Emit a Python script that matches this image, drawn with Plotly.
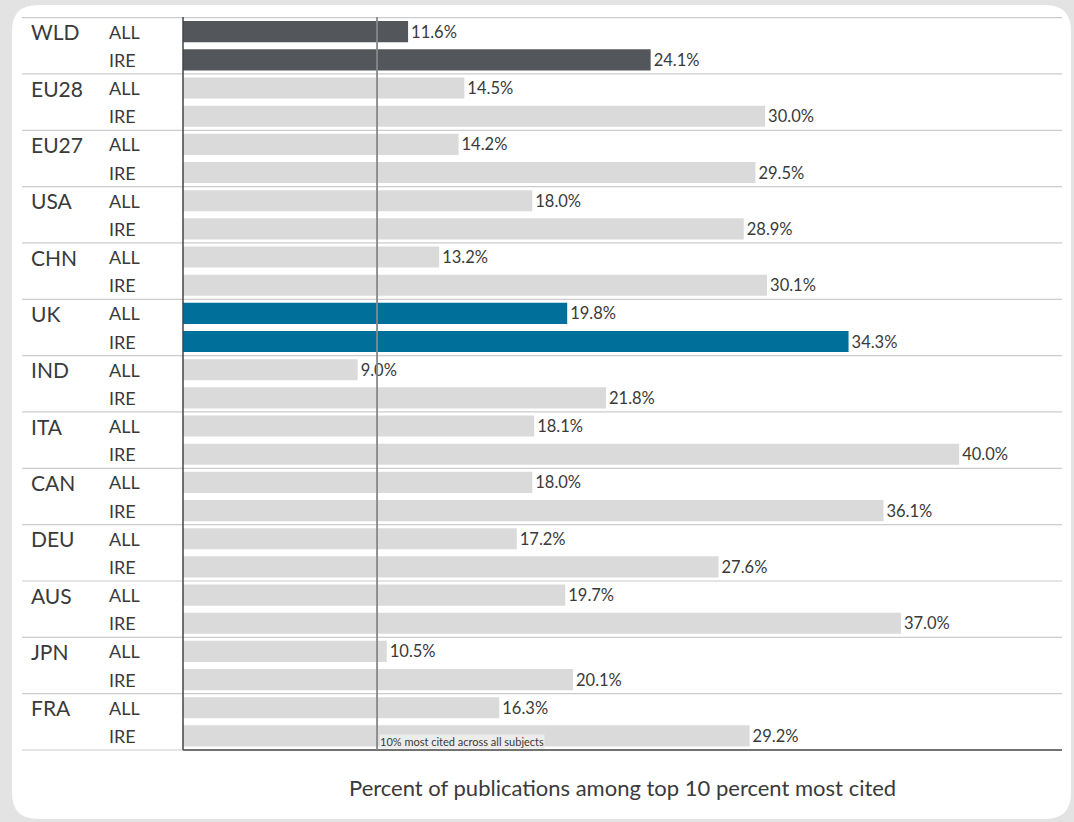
import plotly.graph_objects as go

# data
groups = ["WLD", "EU28", "EU27", "USA", "CHN", "UK", "IND", "ITA", "CAN", "DEU", "AUS", "JPN", "FRA"]
subsets = ["ALL", "IRE"]
all_vals = [11.6, 14.5, 14.2, 18.0, 13.2, 19.8, 9.0, 18.1, 18.0, 17.2, 19.7, 10.5, 16.3]
ire_vals = [24.1, 30.0, 29.5, 28.9, 30.1, 34.3, 21.8, 40.0, 36.1, 27.6, 37.0, 20.1, 29.2]
reference = 10.0
x_title = "Percent of publications among top 10 percent most cited"
ref_note = "10% most cited across all subjects"

GREY = "#dadada"
DARK = "#53565a"
TEAL = "#00709a"
TXT = "#3a3a3a"
FONT = "Lato, Noto Sans, sans-serif"

W, H = 1074, 822
L, R, T, B = 183, 12, 17, 72
pw, ph = W - L - R, H - T - B


def px(x):
    return (x - L) / pw


def py(y):
    return (H - B - y) / ph


rows, vals, cols = [], [], []
for g, a, i in zip(groups, all_vals, ire_vals):
    c = DARK if g == "WLD" else TEAL if g == "UK" else GREY
    for s, v in zip(subsets, [a, i]):
        rows.append(g + " " + s)
        vals.append(v)
        cols.append(c)

fig = go.Figure(go.Bar(
    x=vals, y=rows, orientation="h", width=0.75,
    marker=dict(color=cols, line=dict(width=0)),
    texttemplate="%{x:.1f}%", textposition="outside",
    textfont=dict(size=16.5, color=TXT, family=FONT),
    cliponaxis=False, hoverinfo="skip",
))

shapes = []
# white rounded panel
x0, x1, y0, y1, r = 12, 1071, 5, 819, 26
path = (f"M {px(x0 + r)},{py(y0)} L {px(x1 - r)},{py(y0)} "
        f"Q {px(x1)},{py(y0)} {px(x1)},{py(y0 + r)} L {px(x1)},{py(y1 - r)} "
        f"Q {px(x1)},{py(y1)} {px(x1 - r)},{py(y1)} L {px(x0 + r)},{py(y1)} "
        f"Q {px(x0)},{py(y1)} {px(x0)},{py(y1 - r)} L {px(x0)},{py(y0 + r)} "
        f"Q {px(x0)},{py(y0)} {px(x0 + r)},{py(y0)} Z")
shapes.append(dict(type="path", path=path, xref="paper", yref="paper",
                   fillcolor="white", line=dict(width=0), layer="below"))

# group separators
for k in range(len(groups)):
    yb = 2 * k - 0.5
    shapes.append(dict(type="line", xref="paper", yref="y", x0=px(22), x1=1,
                       y0=yb, y1=yb, line=dict(color="#cccccc", width=1.2)))
shapes.append(dict(type="line", xref="paper", yref="paper", x0=px(22), x1=0,
                   y0=0, y1=0, line=dict(color="#cccccc", width=1.2)))
# axis frame
shapes.append(dict(type="line", xref="paper", yref="paper", x0=0, x1=1,
                   y0=0, y1=0, line=dict(color="#444444", width=1.5)))
shapes.append(dict(type="line", xref="paper", yref="paper", x0=0, x1=0,
                   y0=0, y1=1, line=dict(color="#444444", width=1.5)))
# 10% reference line
shapes.append(dict(type="line", xref="x", yref="paper", x0=reference, x1=reference,
                   y0=0, y1=1, line=dict(color="#888888", width=1.8)))

ann = []
for g in groups:
    ann.append(dict(text=g, x=px(29), xref="paper", y=g + " ALL", yref="y",
                    xanchor="left", yanchor="middle", showarrow=False,
                    font=dict(size=21, color=TXT, family=FONT)))
for rname in rows:
    s = rname.split(" ")[1]
    ann.append(dict(text=s, x=px(107), xref="paper", y=rname, yref="y",
                    xanchor="left", yanchor="middle", showarrow=False,
                    font=dict(size=18, color=TXT, family=FONT)))
ann.append(dict(text=ref_note, x=reference, xref="x", y=rows[-1], yref="y",
                xanchor="left", yanchor="middle", yshift=-6, xshift=2, showarrow=False,
                bgcolor="#ececec", borderpad=0,
                font=dict(size=11, color=TXT, family=FONT)))
ann.append(dict(text=x_title, x=0.5, xref="paper", y=py(787), yref="paper",
                xanchor="center", yanchor="middle", showarrow=False,
                font=dict(size=22, color=TXT, family=FONT)))

fig.update_layout(
    width=W, height=H,
    margin=dict(l=L, r=R, t=T, b=B),
    paper_bgcolor="#e3e3e3", plot_bgcolor="rgba(0,0,0,0)",
    showlegend=False, bargap=0.25,
    xaxis=dict(range=[0, 45.3], showgrid=False, zeroline=False, showticklabels=False,
               ticks="", showline=False, fixedrange=True),
    yaxis=dict(categoryorder="array", categoryarray=rows, autorange="reversed",
               showgrid=False, zeroline=False, showticklabels=False, ticks="",
               showline=False, fixedrange=True),
    shapes=shapes, annotations=ann,
)

fig.write_html("out.html", config={"displayModeBar": False},
               post_script="document.body.style.margin='0';document.body.style.overflow='hidden';")
